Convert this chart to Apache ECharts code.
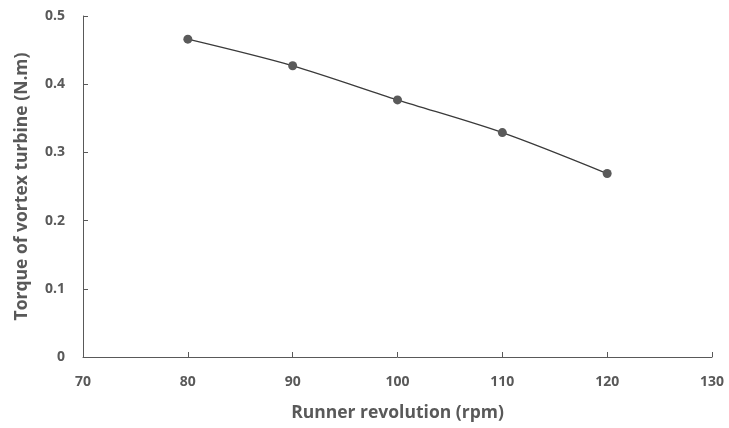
<!DOCTYPE html>
<html>
<head>
<meta charset="utf-8">
<script src="https://cdn.jsdelivr.net/npm/echarts@6/dist/echarts.min.js"></script>
<style>
  html, body { margin: 0; padding: 0; background: #fff; }
  #chart { width: 729px; height: 428px; }
</style>
</head>
<body>
<div id="chart"></div>
<script>
const revolution = [80, 90, 100, 110, 120];
const torque = [0.466, 0.427, 0.377, 0.329, 0.269];

const chart = echarts.init(document.getElementById("chart"));
const labelFont = {
  color: "#595959",
  fontFamily: "Open Sans",
  fontWeight: "bold",
  fontSize: 14,
};

const option = {
  backgroundColor: "#fff",
  animation: false,
  grid: { left: 83, right: 17, top: 16, bottom: 71 },
  xAxis: {
    type: "value",
    min: 70,
    max: 130,
    interval: 10,
    name: "Runner revolution (rpm)",
    nameLocation: "middle",
    nameGap: 47,
    nameTextStyle: { ...labelFont, fontSize: 17.5 },
    axisLine: { lineStyle: { color: "#595959", width: 1 } },
    axisTick: { inside: true, length: 5, lineStyle: { color: "#595959" } },
    axisLabel: { ...labelFont, margin: 18 },
    splitLine: { show: false },
  },
  yAxis: {
    type: "value",
    min: 0,
    max: 0.5,
    interval: 0.1,
    name: "Torque of vortex turbine (N.m)",
    nameLocation: "middle",
    nameGap: 52,
    nameTextStyle: { ...labelFont, fontSize: 17.5 },
    axisLine: { show: true, lineStyle: { color: "#595959", width: 1 } },
    axisTick: { show: true, inside: true, length: 5, lineStyle: { color: "#595959" } },
    axisLabel: { ...labelFont, margin: 18 },
    splitLine: { show: false },
  },
  series: [
    {
      type: "line",
      data: revolution.map((r, i) => [r, torque[i]]),
      smooth: 0.3,
      symbol: "circle",
      symbolSize: 9,
      lineStyle: { color: "#3a3a3a", width: 1.3 },
      itemStyle: { color: "#5a5a5a" },
    },
  ],
};
chart.setOption(option);
</script>
</body>
</html>
